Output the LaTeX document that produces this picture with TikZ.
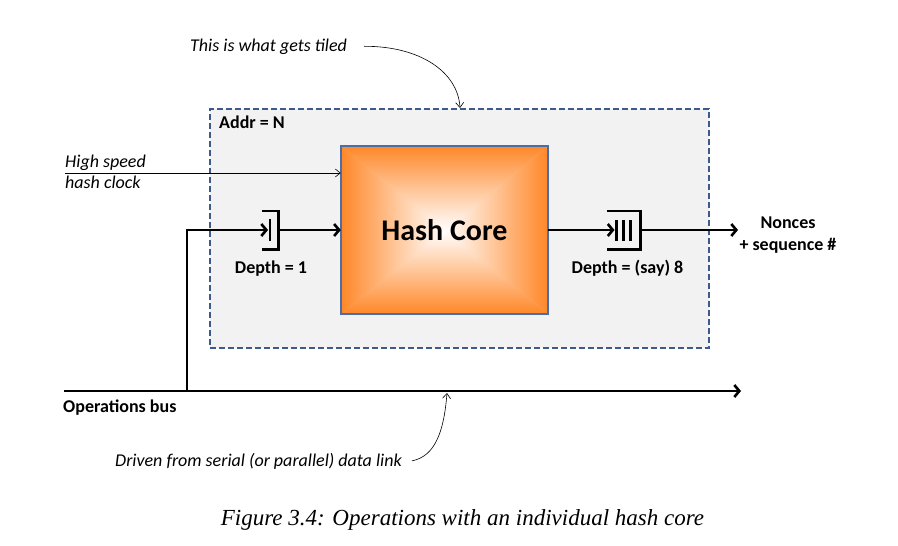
\documentclass[tikz,border=0pt]{standalone}
\usepackage{fontspec}
\setmainfont{Carlito}
\newfontfamily\capfont{Liberation Serif}
\usetikzlibrary{arrows.meta}
\definecolor{dashblue}{RGB}{60,90,140}
\definecolor{coreblue}{RGB}{74,110,165}
\definecolor{coreorange}{RGB}{255,135,40}
\definecolor{tilegray}{RGB}{242,242,242}
\begin{document}
\begin{tikzpicture}[x=1pt,y=-1pt,
  lbl/.style={font=\fontsize{18}{22}\selectfont\bfseries, inner sep=0pt},
  note/.style={font=\fontsize{18}{22}\selectfont\itshape, inner sep=0pt},
  thickline/.style={line width=2.6pt},
  bigarrow/.style={thickline, -{Straight Barb[length=5pt,width=12pt]}},
  thinarrow/.style={line width=0.6pt, -{Straight Barb[length=5pt,width=8pt]}},
  regline/.style={line width=2.6pt}]
\useasboundingbox (0,0) rectangle (898,546);
% tile box
\node[draw=dashblue, line width=1.6pt, dash pattern=on 6pt off 3pt, fill=tilegray,
      minimum width=499pt, minimum height=239pt, inner sep=0pt] (tile) at (459.5,228.5) {};
\node[lbl, anchor=base west] (addr) at (219,128) {Addr = N};
% hash core
\node[minimum width=207pt, minimum height=168pt, inner sep=0pt] (core) at (444.5,230) {};
\fill[coreorange!50] (core.north west) rectangle (core.south east);
\begin{scope}
  \clip (core.north west) -- (core.north east) -- (core.center) -- cycle;
  \shade[top color=coreorange, bottom color=white] (core.north west) rectangle (core.east);
\end{scope}
\begin{scope}
  \clip (core.south west) -- (core.south east) -- (core.center) -- cycle;
  \shade[top color=white, bottom color=coreorange] (core.west) rectangle (core.south east);
\end{scope}
\begin{scope}
  \clip (core.north west) -- (core.south west) -- (core.center) -- cycle;
  \shade[left color=coreorange, right color=white] (core.north west) rectangle (core.south);
\end{scope}
\begin{scope}
  \clip (core.north east) -- (core.south east) -- (core.center) -- cycle;
  \shade[left color=white, right color=coreorange] (core.north) rectangle (core.south east);
\end{scope}
\draw[coreblue, line width=1.8pt] (core.north west) rectangle (core.south east);
\node[font=\fontsize{30}{36}\selectfont\bfseries] (coretext) at (core.center) {Hash Core};
% register 1
\node[minimum width=16pt, minimum height=38pt, inner sep=0pt] (reg1) at (270,230) {};
\draw[regline] (reg1.north west) -- (reg1.north east) -- (reg1.south east) -- (reg1.south west);
\draw[regline] ([yshift=-8pt]reg1.north) -- ([yshift=8pt]reg1.south);
\node[lbl, anchor=base] (d1) at (271,273) {Depth = 1};
% register 2
\node[minimum width=33pt, minimum height=38pt, inner sep=0pt] (reg2) at (623.5,230) {};
\draw[regline] (reg2.north west) -- (reg2.north east) -- (reg2.south east) -- (reg2.south west);
\foreach \dx in {-7,0,7}
  \draw[regline] ([xshift=\dx pt, yshift=-9pt]reg2.north) -- ([xshift=\dx pt, yshift=8pt]reg2.south);
\node[lbl, anchor=base] (d8) at (627.5,273) {Depth = (say) 8};
% bus
\coordinate (busL) at (64,391);
\coordinate (busR) at (741,391);
\coordinate (tap) at (187,391);
\draw[bigarrow] (busL) -- (busR);
\node[lbl, anchor=base west] (opbus) at (63,412) {Operations bus};
% data paths
\draw[bigarrow] (tap) |- ([xshift=-2pt]reg1.center);
\draw[bigarrow] (reg1.east) -- (core.west);
\draw[bigarrow] (core.east) -- ([xshift=-9pt]reg2.center);
\coordinate (out) at (738,230);
\draw[bigarrow] (reg2.east) -- (out);
\node[lbl, anchor=base] (nonces) at (788,228) {Nonces};
\node[lbl, anchor=base] (seq) at (788,250) {+ sequence \#};
% clock
\node[note, anchor=base west] (hs) at (65,167) {High speed};
\node[note, anchor=base west] (hc) at (65,188) {hash clock};
\coordinate (clk) at (65,173);
\draw[thinarrow] (clk) -- (clk -| core.west);
% tiled note
\node[note, anchor=base west] (tiled) at (190,51) {This is what gets tiled};
\coordinate (tiletop) at (460,108);
\draw[thinarrow] ([xshift=17pt]tiled.east) .. controls (420,46) and (458,72) .. (tiletop);
% driven note
\node[note, anchor=base west] (driven) at (115,466) {Driven from serial (or parallel) data link};
\coordinate (busmark) at (447,393);
\draw[thinarrow] ([xshift=10pt]driven.east) .. controls (436,456) and (444,430) .. (busmark);
% caption
\node[font=\capfont\itshape\fontsize{23}{27}\selectfont] (cap) at (462.5,520) {Figure 3.4: Operations with an individual hash core};
\end{tikzpicture}
\end{document}
